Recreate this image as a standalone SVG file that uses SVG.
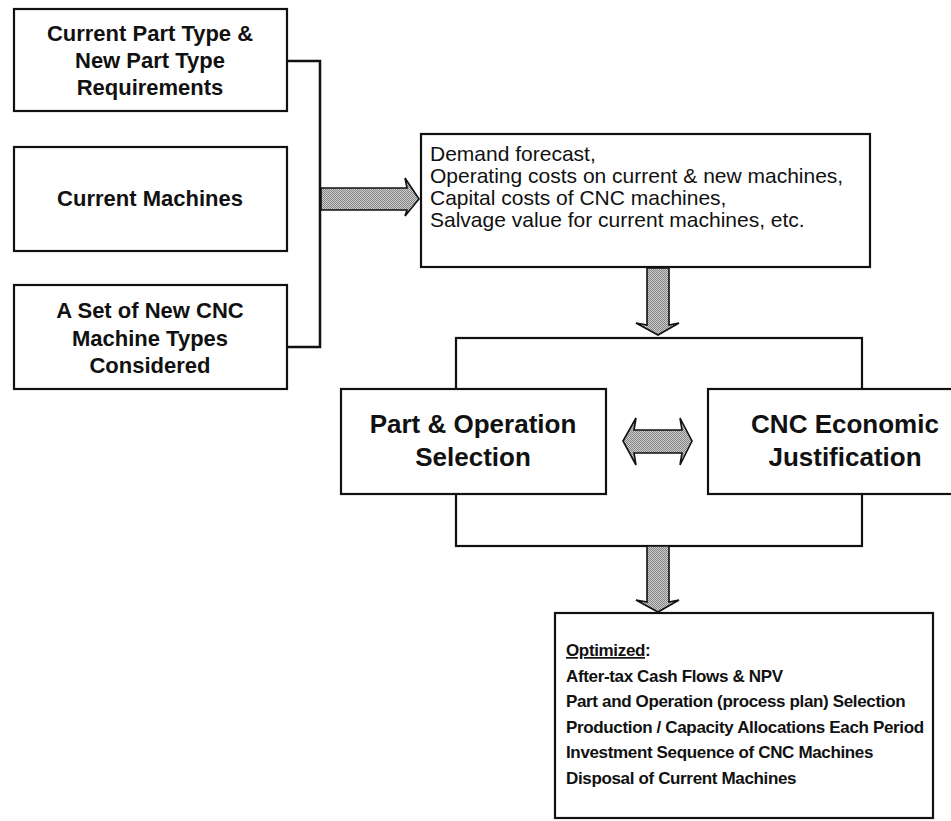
<svg xmlns="http://www.w3.org/2000/svg" width="951" height="821" viewBox="0 0 951 821">
  <defs>
    <!-- fine dither fill used by the block arrows -->
    <pattern id="halftone" width="2" height="2" patternUnits="userSpaceOnUse">
      <rect width="2" height="2" fill="#cdcdcd"/>
      <rect x="0" y="0" width="1" height="1" fill="#858585"/>
      <rect x="1" y="1" width="1" height="1" fill="#858585"/>
    </pattern>
  </defs>
  <style>
    .box { fill: #ffffff; stroke: #111111; stroke-width: 2.2; }
    .line { fill: none; stroke: #111111; stroke-width: 2.5; }
    .arrow { fill: url(#halftone); stroke: #111111; stroke-width: 1.6; stroke-linejoin: miter; }
    .hd { font-family: "Liberation Sans", Arial, sans-serif; font-weight: bold; font-size: 22px; fill: #111111; text-anchor: middle; }
    .big { font-family: "Liberation Sans", Arial, sans-serif; font-weight: bold; font-size: 26px; fill: #111111; text-anchor: middle; }
    .body { font-family: "Liberation Sans", Arial, sans-serif; font-size: 21px; fill: #111111; }
    .out { font-family: "Liberation Sans", Arial, sans-serif; font-weight: bold; font-size: 17px; letter-spacing: -0.35px; fill: #111111; }
  </style>
  <rect width="951" height="821" fill="#ffffff"/>

  <!-- Input boxes -->
  <g id="part-requirements">
    <rect class="box" x="14" y="9" width="273" height="102"/>
    <text class="hd" x="150" y="41">Current Part Type &amp;</text>
    <text class="hd" x="150" y="68">New Part Type</text>
    <text class="hd" x="150" y="95">Requirements</text>
  </g>
  <g id="current-machines">
    <rect class="box" x="14" y="147" width="273" height="104"/>
    <text class="hd" x="150" y="206">Current Machines</text>
  </g>
  <g id="new-cnc-types">
    <rect class="box" x="14" y="285" width="273" height="104"/>
    <text class="hd" x="150" y="318">A Set of New CNC</text>
    <text class="hd" x="150" y="346">Machine Types</text>
    <text class="hd" x="150" y="373">Considered</text>
  </g>

  <!-- Data box -->
  <g id="data">
    <rect class="box" x="421" y="134" width="449" height="133"/>
    <text class="body" x="430" y="161">Demand forecast,</text>
    <text class="body" x="430" y="183">Operating costs on current &amp; new machines,</text>
    <text class="body" x="430" y="205">Capital costs of CNC machines,</text>
    <text class="body" x="430" y="227">Salvage value for current machines, etc.</text>
  </g>

  <!-- Integrated model frame with its two modules -->
  <g id="model-frame">
    <rect class="box" x="456" y="338" width="406" height="208"/>
  </g>
  <g id="part-operation-selection">
    <rect class="box" x="341" y="389" width="265" height="105"/>
    <text class="big" x="473" y="433">Part &amp; Operation</text>
    <text class="big" x="473" y="466">Selection</text>
  </g>
  <g id="cnc-justification">
    <rect class="box" x="708" y="389" width="290" height="105"/>
    <text class="big" x="845" y="433">CNC Economic</text>
    <text class="big" x="845" y="466">Justification</text>
  </g>

  <!-- Results box -->
  <g id="results">
    <rect class="box" x="555" y="613" width="378" height="205"/>
    <text class="out" x="566" y="656"><tspan text-decoration="underline">Optimized</tspan>:</text>
    <text class="out" x="566" y="681.5">After-tax Cash Flows &amp; NPV</text>
    <text class="out" x="566" y="707">Part and Operation (process plan) Selection</text>
    <text class="out" x="566" y="732.5">Production / Capacity Allocations Each Period</text>
    <text class="out" x="566" y="758">Investment Sequence of CNC Machines</text>
    <text class="out" x="566" y="783.5">Disposal of Current Machines</text>
  </g>

  <!-- Connectors -->
  <g id="connectors">
    <polyline class="line" points="287,61 320,61 320,347 287,347"/>
    <polygon class="arrow" points="321,188 407,188 405,178 419,199 405,216 407,210 321,210"/>
    <polygon class="arrow" points="647,268 669,268 669,325 679,323 658,335 636,323 647,325"/>
    <polygon class="arrow" points="623,441 636,418 634,430 682,430 680,418 692,441 680,465 682,453 634,453 636,465"/>
    <polygon class="arrow" points="647,546 669,546 669,602 679,600 658,612 636,600 647,602"/>
  </g>
</svg>
